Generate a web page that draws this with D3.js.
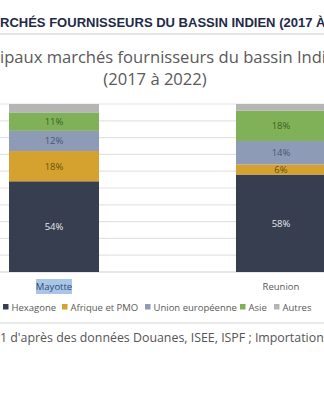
<!DOCTYPE html>
<html><head><meta charset="utf-8">
<script src="https://cdn.jsdelivr.net/npm/d3@7"></script>
<style>html,body{margin:0;padding:0;background:#fff;overflow:hidden}svg{display:block}</style>
</head><body>
<script>
const categories = ["Mayotte", "Reunion"];
const seriesNames = ["Hexagone", "Afrique et PMO", "Union européenne", "Asie", "Autres"];
const hexagone = [54, 58];
const afrique = [18, 6];
const ue = [12, 14];
const asie = [11, 18];
const autres = [5, 4];
const yTicks = [0, 10, 20, 30, 40, 50, 60, 70, 80, 90, 100];
const colors = ["#363e50", "#d5a22f", "#8e9bb6", "#80b158", "#b5b5b5"];
const labelColors = ["#e6e8ec", "#6b4e10", "#4a5671", "#3d5f28", "#777"];

const W = 324, H = 400;
const svg = d3.select("body").append("svg").attr("width", W).attr("height", H);

const seriesVals = [hexagone, afrique, ue, asie, autres];
const rows = categories.map((c, i) => {
  const r = {cat: c};
  seriesNames.forEach((s, k) => r[s] = seriesVals[k][i]);
  return r;
});
const stack = d3.stack().keys(seriesNames)(rows);

const x = d3.scaleBand().domain(categories).range([-59.5, 394.5]).paddingInner(0.6035).paddingOuter(0.3018);
const y = d3.scaleLinear().domain([0, 100]).range([272, 104]);

// helper: place text so that a given prefix is hidden left of x0
function placeClipped(sel, full, prefix, x0, visible, targetW) {
  const tmp = svg.append("text").attr("font-family", sel.attr("font-family")).attr("font-weight", sel.attr("font-weight")).attr("font-size", sel.attr("font-size")).text(visible);
  const vw = tmp.node().getComputedTextLength();
  const s = +sel.attr("font-size") * targetW / vw;
  tmp.attr("font-size", s).text(prefix);
  const pw = tmp.node().getComputedTextLength();
  tmp.remove();
  sel.attr("font-size", s).attr("x", x0 - pw).text(full);
}

// heading
const head = svg.append("text").attr("y", 27).attr("font-family", "Liberation Sans, Arial, sans-serif")
  .attr("font-weight", "bold").attr("font-size", 12.5).attr("fill", "#1f2a48");
placeClipped(head, "PRINCIPAUX MARCHÉS FOURNISSEURS DU BASSIN INDIEN (2017 À 2022)", "PRINCIPAUX MA", 0, "RCHÉS FOURNISSEURS DU BASSIN INDIEN (2017 ", 313);
svg.append("line").attr("x1", 0).attr("x2", W).attr("y1", 34).attr("y2", 34).attr("stroke", "#dcdcdc").attr("stroke-width", 1.5);

// title
const t1 = svg.append("text").attr("y", 63).attr("font-family", "Open Sans, sans-serif").attr("font-size", 18).attr("fill", "#595959");
placeClipped(t1, "Principaux marchés fournisseurs du bassin Indien", "Princ", 0, "ipaux marchés fournisseurs du bassin Ind", 322);
svg.append("text").attr("x", 155).attr("y", 85).attr("text-anchor", "middle").attr("font-family", "Open Sans, sans-serif")
  .attr("font-size", t1.attr("font-size")).attr("fill", "#595959").text("(2017 à 2022)");

// gridlines
svg.append("g").selectAll("line").data(yTicks).join("line")
  .attr("x1", 0).attr("x2", W).attr("y1", d => y(d)).attr("y2", d => y(d))
  .attr("stroke", d => d === 0 ? "#cfcfcf" : "#e3e3e3").attr("stroke-width", 1.2);

// bars
const g = svg.append("g").selectAll("g").data(stack).join("g").attr("fill", (d, i) => colors[i]);
g.selectAll("rect").data(d => d).join("rect")
  .attr("x", d => x(d.data.cat)).attr("width", x.bandwidth())
  .attr("y", d => y(d[1])).attr("height", d => y(d[0]) - y(d[1]));

// labels
stack.forEach((s, i) => {
  if (i === 4) return;
  svg.append("g").selectAll("text").data(s).join("text")
    .attr("x", d => x(d.data.cat) + x.bandwidth() / 2)
    .attr("y", d => (y(d[0]) + y(d[1])) / 2 + 3.5)
    .attr("text-anchor", "middle").attr("font-family", "Open Sans, sans-serif").attr("font-size", 9.5)
    .attr("fill", labelColors[i]).text(d => (d[1] - d[0]) + "%");
});

// category labels
const mx = x("Mayotte") + x.bandwidth() / 2;
svg.append("rect").attr("x", mx - 18).attr("y", 279).attr("width", 36).attr("height", 15).attr("fill", "#a9c5e8");
svg.append("g").selectAll("text").data(categories).join("text")
  .attr("x", d => x(d) + x.bandwidth() / 2).attr("y", 290).attr("text-anchor", "middle")
  .attr("font-family", "Open Sans, sans-serif").attr("font-size", 9.5)
  .attr("fill", d => d === "Mayotte" ? "#2e4a73" : "#595959").text(d => d);

// legend
const legX = [3, 62, 145, 240, 274];
const leg = svg.append("g").selectAll("g").data(seriesNames).join("g")
  .attr("transform", (d, i) => `translate(${legX[i]},307)`);
leg.append("rect").attr("x", 0).attr("y", -3).attr("width", 5.5).attr("height", 5.5).attr("fill", (d, i) => colors[i]);
leg.append("text").attr("x", 8.5).attr("y", 3.5).attr("font-family", "Open Sans, sans-serif").attr("font-size", 9.5)
  .attr("fill", "#595959").text(d => d);

svg.append("line").attr("x1", 0).attr("x2", W).attr("y1", 323).attr("y2", 323).attr("stroke", "#e3e3e3").attr("stroke-width", 1.5);

// source
const src = svg.append("text").attr("y", 342).attr("font-family", "Open Sans, sans-serif").attr("font-size", 13).attr("fill", "#555");
placeClipped(src, "Source : IEDOM-IEOM 2021 d'après des données Douanes, ISEE, ISPF ; Importations", "Source : IEDOM-IEOM 202", 0, "1 d'après des données Douanes, ISEE, ISPF ; Importation", 324);
</script>
</body></html>
